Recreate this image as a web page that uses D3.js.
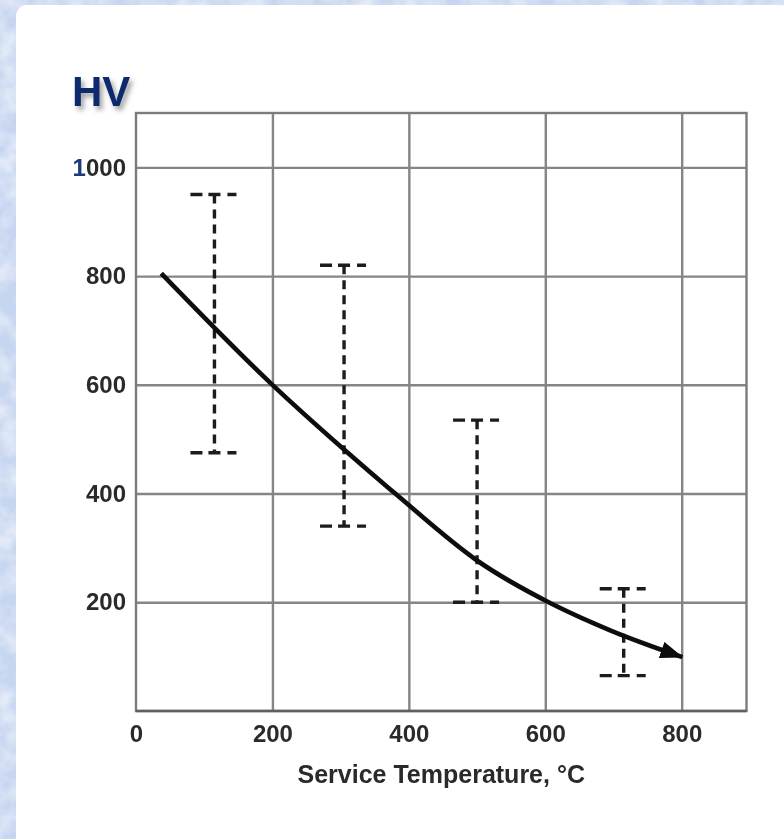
<!DOCTYPE html>
<html>
<head>
<meta charset="utf-8">
<script src="https://cdn.jsdelivr.net/npm/d3@7"></script>
<style>
  html, body { margin: 0; padding: 0; background: #ffffff; }
  svg { display: block; }
  text { font-family: "Liberation Sans", Arial, Helvetica, sans-serif; }
</style>
</head>
<body>
<svg id="chart" width="784" height="839"></svg>
<script>
// Hardness (HV) versus service temperature
const xTicks = [0, 200, 400, 600, 800];
const yTicks = [200, 400, 600, 800, 1000];

// mean hardness trend
const curveTemp = [37, 200, 305, 380, 502, 605, 696, 801];
const curveHV   = [805, 600, 481, 400, 275, 200, 148, 99];

// scatter ranges at selected temperatures
const barTemp = [115, 305, 500, 715];
const barLow  = [475, 340, 200, 65];
const barHigh = [950, 820, 535, 225];

const svg = d3.select("#chart");
const W = 784, H = 839;
const plot = { left: 136, right: 746.5, top: 113, bottom: 711 };

const defs = svg.append("defs");

// mottled blue backdrop
const marble = defs.append("filter").attr("id", "marble")
  .attr("x", 0).attr("y", 0).attr("width", "100%").attr("height", "100%");
marble.append("feTurbulence").attr("type", "fractalNoise")
  .attr("baseFrequency", "0.045").attr("numOctaves", 3).attr("seed", 7);
marble.append("feColorMatrix").attr("type", "matrix")
  .attr("values", "0 0 0 0 1  0 0 0 0 1  0 0 0 0 1  1.6 0 0 0 -0.55");

const soft = defs.append("filter").attr("id", "soft");
soft.append("feGaussianBlur").attr("stdDeviation", 0.55);

const shadow = defs.append("filter").attr("id", "shadow")
  .attr("x", "-20%").attr("y", "-20%").attr("width", "160%").attr("height", "160%");
shadow.append("feDropShadow").attr("dx", 3).attr("dy", 4)
  .attr("stdDeviation", 2.5).attr("flood-color", "#555").attr("flood-opacity", 0.55);

defs.append("marker").attr("id", "arrow")
  .attr("viewBox", "0 -9 24 18")
  .attr("markerUnits", "userSpaceOnUse")
  .attr("markerWidth", 24).attr("markerHeight", 18)
  .attr("refX", 22).attr("refY", 0)
  .attr("orient", "auto")
  .append("path").attr("d", "M0,-8.5L23,0L0,8.5Z").attr("fill", "#111");

svg.append("rect").attr("width", W).attr("height", H).attr("fill", "#c6d5f0");
svg.append("rect").attr("width", W).attr("height", H).attr("filter", "url(#marble)").attr("opacity", 0.75);
svg.append("rect").attr("x", 16).attr("y", 5).attr("width", W - 16 + 20).attr("height", H + 20)
  .attr("rx", 11).attr("fill", "#ffffff");

const x = d3.scaleLinear().domain([0, 895]).range([plot.left, plot.right]);
const y = d3.scaleLinear().domain([0, 1100]).range([plot.bottom, plot.top]);

const g = svg.append("g").attr("filter", "url(#soft)");

// grid
g.append("g").attr("class", "grid-x")
  .attr("transform", `translate(0,${plot.bottom})`)
  .call(d3.axisBottom(x).tickValues(xTicks.slice(1)).tickSize(-(plot.bottom - plot.top)).tickFormat(""))
  .call(s => s.select(".domain").remove())
  .call(s => s.selectAll("line").attr("stroke", "#858585").attr("stroke-width", 2.4));

g.append("g").attr("class", "grid-y")
  .attr("transform", `translate(${plot.left},0)`)
  .call(d3.axisLeft(y).tickValues(yTicks).tickSize(-(plot.right - plot.left)).tickFormat(""))
  .call(s => s.select(".domain").remove())
  .call(s => s.selectAll("line").attr("stroke", "#858585").attr("stroke-width", 2.4));

// frame
g.append("rect")
  .attr("x", plot.left).attr("y", plot.top)
  .attr("width", plot.right - plot.left).attr("height", plot.bottom - plot.top)
  .attr("fill", "none").attr("stroke", "#7c7c7c").attr("stroke-width", 2.4);
g.append("line")
  .attr("x1", plot.left).attr("x2", plot.right)
  .attr("y1", plot.bottom).attr("y2", plot.bottom)
  .attr("stroke", "#5e5e5e").attr("stroke-width", 2.4);

// axis labels
const xAxis = g.append("g")
  .attr("transform", `translate(0,${plot.bottom})`)
  .call(d3.axisBottom(x).tickValues(xTicks).tickSize(0).tickPadding(14).tickFormat(d3.format("d")));
xAxis.select(".domain").remove();
xAxis.selectAll("text")
  .attr("font-family", "'Liberation Sans', Arial, sans-serif")
  .attr("font-size", 24).attr("font-weight", "bold").attr("fill", "#2a2a2a");

const yAxis = g.append("g")
  .attr("transform", `translate(${plot.left},0)`)
  .call(d3.axisLeft(y).tickValues(yTicks).tickSize(0).tickPadding(10).tickFormat(d3.format("d")));
yAxis.select(".domain").remove();
yAxis.selectAll("text")
  .attr("font-family", "'Liberation Sans', Arial, sans-serif")
  .attr("font-size", 24).attr("font-weight", "bold").attr("fill", "#2a2a2a");
yAxis.selectAll(".tick").filter(d => d === 1000).select("text")
  .each(function () {
    const t = d3.select(this);
    t.text(null);
    t.append("tspan").attr("fill", "#1d3a7c").text("1");
    t.append("tspan").text("000");
  });

// scatter ranges
const bars = g.append("g").attr("stroke", "#1a1a1a").attr("stroke-width", 3.4).attr("fill", "none");
barTemp.forEach((t, i) => {
  const cx = x(t);
  bars.append("line")
    .attr("x1", cx).attr("x2", cx)
    .attr("y1", y(barHigh[i])).attr("y2", y(barLow[i]))
    .attr("stroke-dasharray", "9 6");
  [barHigh[i], barLow[i]].forEach(v => {
    bars.append("line")
      .attr("x1", cx - 24).attr("x2", cx + 24)
      .attr("y1", y(v)).attr("y2", y(v))
      .attr("stroke-dasharray", "12 6 12 7 9");
  });
});

// trend curve
const pts = curveTemp.map((t, i) => [t, curveHV[i]]);
g.append("path")
  .datum(pts)
  .attr("d", d3.line().x(d => x(d[0])).y(d => y(d[1])).curve(d3.curveMonotoneX))
  .attr("fill", "none").attr("stroke", "#111").attr("stroke-width", 4.6)
  .attr("marker-end", "url(#arrow)");

// axis title
svg.append("text")
  .attr("x", (plot.left + plot.right) / 2).attr("y", 783)
  .attr("text-anchor", "middle")
  .attr("font-size", 25).attr("font-weight", "bold").attr("fill", "#2a2a2a")
  .attr("filter", "url(#soft)")
  .text("Service Temperature, °C");

// unit label
svg.append("text")
  .attr("x", 72).attr("y", 106)
  .attr("font-size", 42).attr("font-weight", "bold").attr("fill", "#0c2b6e")
  .attr("filter", "url(#shadow)")
  .text("HV");
</script>
</body>
</html>
